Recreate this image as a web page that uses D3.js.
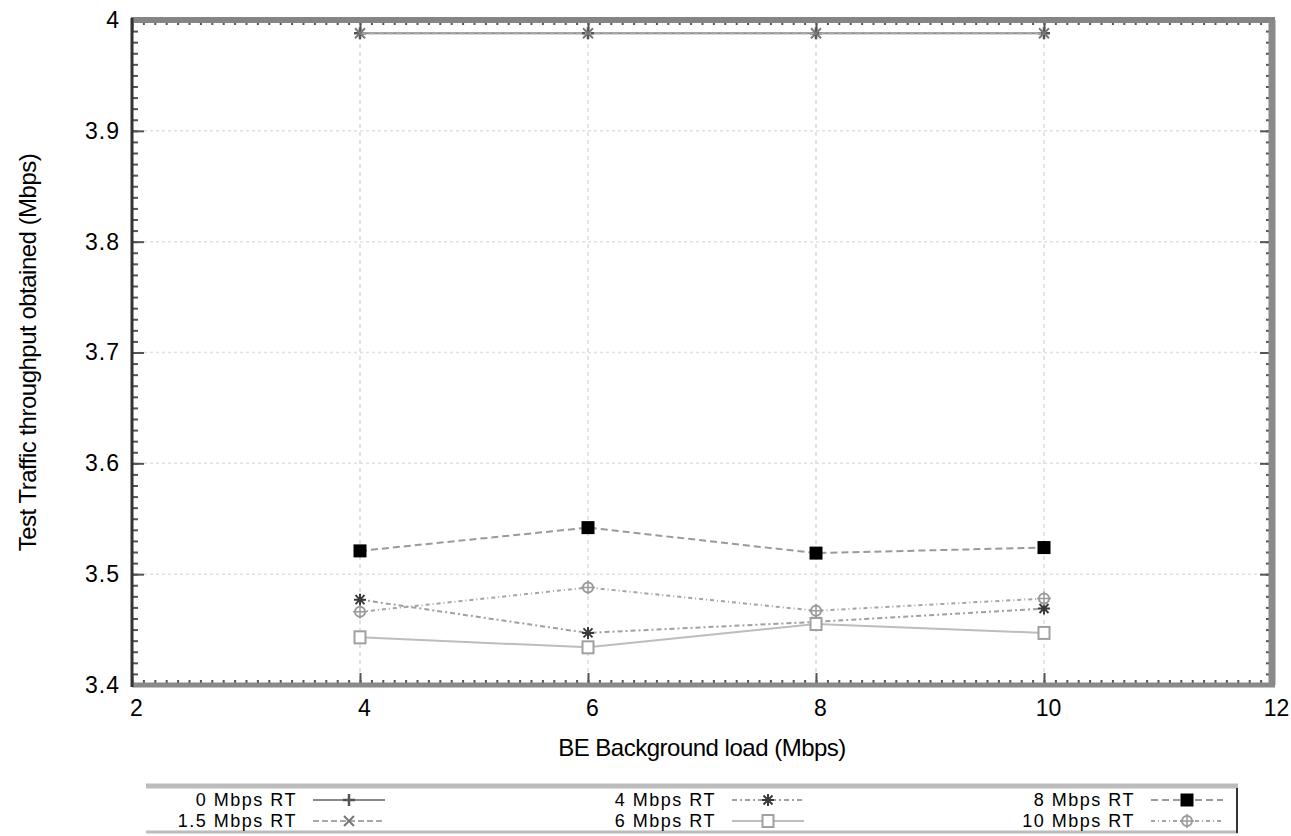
<!DOCTYPE html>
<html lang="en">
<head>
  <meta charset="UTF-8" />
  <title>Test Traffic throughput vs BE Background load</title>
  <script src="https://d3js.org/d3.v7.min.js"></script>
  <style>
    body {
      margin: 0;
      background: #ffffff;
    }
    svg text {
      font-family: 'Liberation Sans', Arial, sans-serif;
      fill: #000;
    }
  </style>
</head>
<body>
  <svg id="chart"></svg>

  <script>
    // data
    const xValues = [4, 6, 8, 10];
    const seriesNames = ["0 Mbps RT", "1.5 Mbps RT", "4 Mbps RT", "6 Mbps RT", "8 Mbps RT", "10 Mbps RT"];
    const rt0 = [3.988, 3.988, 3.988, 3.988];
    const rt15 = [3.988, 3.988, 3.988, 3.988];
    const rt4 = [3.477, 3.447, 3.457, 3.469];
    const rt6 = [3.443, 3.434, 3.455, 3.447];
    const rt8 = [3.521, 3.542, 3.519, 3.524];
    const rt10 = [3.466, 3.488, 3.467, 3.478];
    const xTicks = [2, 4, 6, 8, 10, 12];
    const yTicks = [3.4, 3.5, 3.6, 3.7, 3.8, 3.9, 4];

    const W = 1291, H = 836;
    const svg = d3.select("#chart").attr("width", W).attr("height", H);

    const margin = { top: 20, right: 19, bottom: 151, left: 132 };
    const width = W - margin.left - margin.right;
    const height = H - margin.top - margin.bottom;
    const g = svg.append("g").attr("transform", `translate(${margin.left},${margin.top})`);

    const x = d3.scaleLinear().domain([2, 12]).range([0, width]);
    const y = d3.scaleLinear().domain([3.4, 4]).range([height, 0]);

    // styles per series
    const styles = [
      { line: "#8a8a8a", dash: null, marker: "plus", mcol: "#555" },
      { line: "#a8a8a8", dash: "6,3", marker: "cross", mcol: "#777" },
      { line: "#a0a0a0", dash: "5,3,2,3", marker: "star", mcol: "#3a3a3a" },
      { line: "#bdbdbd", dash: null, marker: "openSquare", mcol: "#a0a0a0" },
      { line: "#9a9a9a", dash: "7,4", marker: "filledSquare", mcol: "#000" },
      { line: "#a4a4a4", dash: "4,3,1,3", marker: "circlePlus", mcol: "#9a9a9a" }
    ];
    const seriesValues = [rt0, rt15, rt4, rt6, rt8, rt10];

    // grid
    g.append("g")
      .selectAll("line")
      .data(xTicks.slice(1, -1))
      .join("line")
      .attr("x1", d => x(d)).attr("x2", d => x(d))
      .attr("y1", 0).attr("y2", height)
      .attr("stroke", "#dadada").attr("stroke-width", 1.5)
      .attr("stroke-dasharray", "4,4");

    g.append("g")
      .selectAll("line")
      .data(yTicks.slice(1, -1))
      .join("line")
      .attr("y1", d => y(d)).attr("y2", d => y(d))
      .attr("x1", 0).attr("x2", width)
      .attr("stroke", "#e0e0e0").attr("stroke-width", 1.5)
      .attr("stroke-dasharray", "3,3");

    // axes with inward ticks on all four sides
    const minorX = d3.range(20, 121).map(d => d / 10);
    const minorY = d3.range(340, 401).map(d => d / 100);

    function styleAxis(sel) {
      sel.select(".domain").remove();
      sel.selectAll(".tick line").attr("stroke", "#555").attr("stroke-width", 2);
    }

    g.append("g").attr("transform", `translate(0,${height})`)
      .call(d3.axisBottom(x).tickValues(minorX).tickSize(-5).tickFormat(""))
      .call(styleAxis);
    g.append("g").attr("transform", `translate(0,${height})`)
      .call(d3.axisBottom(x).tickValues(xTicks).tickSize(-12).tickFormat(d3.format("d")))
      .call(styleAxis)
      .call(s => s.selectAll("text").attr("font-size", 23).attr("dx", 4).attr("dy", "0.35em").attr("y", 23));
    g.append("g")
      .call(d3.axisTop(x).tickValues(minorX).tickSize(-5).tickFormat(""))
      .call(styleAxis);
    g.append("g")
      .call(d3.axisTop(x).tickValues(xTicks).tickSize(-12).tickFormat(""))
      .call(styleAxis);

    g.append("g")
      .call(d3.axisLeft(y).tickValues(minorY).tickSize(-6).tickFormat(""))
      .call(styleAxis);
    g.append("g")
      .call(d3.axisLeft(y).tickValues(yTicks).tickSize(-12).tickFormat(d => d === 4 ? "4" : d3.format(".1f")(d)))
      .call(styleAxis)
      .call(s => s.selectAll("text").attr("font-size", 23).attr("x", -12).attr("letter-spacing", 1));
    g.append("g").attr("transform", `translate(${width},0)`)
      .call(d3.axisRight(y).tickValues(minorY).tickSize(-6).tickFormat(""))
      .call(styleAxis);
    g.append("g").attr("transform", `translate(${width},0)`)
      .call(d3.axisRight(y).tickValues(yTicks).tickSize(-12).tickFormat(""))
      .call(styleAxis);

    // frame
    g.append("line").attr("x1", -1).attr("x2", width + 3).attr("y1", 0).attr("y2", 0)
      .attr("stroke", "#858585").attr("stroke-width", 6);
    g.append("line").attr("x1", 0).attr("x2", width + 3).attr("y1", height).attr("y2", height)
      .attr("stroke", "#8a8a8a").attr("stroke-width", 5);
    g.append("line").attr("x1", width).attr("x2", width).attr("y1", 0).attr("y2", height)
      .attr("stroke", "#8a8a8a").attr("stroke-width", 7);
    g.append("line").attr("x1", 0).attr("x2", 0).attr("y1", -2).attr("y2", height + 2)
      .attr("stroke", "#333").attr("stroke-width", 3);

    // marker drawing
    function drawMarker(sel, type, color) {
      if (type === "plus") {
        sel.append("path").attr("d", "M-6,0H6M0,-6V6").attr("stroke", color).attr("stroke-width", 2.5).attr("fill", "none");
      } else if (type === "cross") {
        sel.append("path").attr("d", "M-5,-5L5,5M-5,5L5,-5").attr("stroke", color).attr("stroke-width", 2).attr("fill", "none");
      } else if (type === "star") {
        sel.append("path").attr("d", "M-6,0H6M0,-6V6M-4.5,-4.5L4.5,4.5M-4.5,4.5L4.5,-4.5").attr("stroke", color).attr("stroke-width", 2).attr("fill", "none");
      } else if (type === "openSquare") {
        sel.append("rect").attr("x", -5.5).attr("y", -6).attr("width", 11).attr("height", 12)
          .attr("fill", "#fff").attr("stroke", color).attr("stroke-width", 2);
      } else if (type === "filledSquare") {
        sel.append("rect").attr("x", -6.5).attr("y", -6.5).attr("width", 13).attr("height", 13).attr("fill", color);
      } else if (type === "circlePlus") {
        sel.append("circle").attr("r", 5).attr("fill", "#fff").attr("stroke", color).attr("stroke-width", 2);
        sel.append("path").attr("d", "M-7,0H7M0,-7V7").attr("stroke", color).attr("stroke-width", 1.5);
      }
    }

    const line = d3.line().x(d => x(d[0])).y(d => y(d[1]));

    seriesValues.forEach((vals, i) => {
      const st = styles[i];
      const pts = xValues.map((xv, j) => [xv, vals[j]]);
      g.append("path")
        .datum(pts)
        .attr("fill", "none")
        .attr("stroke", st.line)
        .attr("stroke-width", 2)
        .attr("stroke-dasharray", st.dash)
        .attr("d", line);
      g.selectAll(null)
        .data(pts)
        .join("g")
        .attr("transform", d => `translate(${x(d[0])},${y(d[1])})`)
        .each(function () { drawMarker(d3.select(this), st.marker, st.mcol); });
    });

    // axis titles
    svg.append("text")
      .attr("x", margin.left + width / 2)
      .attr("y", 756)
      .attr("text-anchor", "middle")
      .attr("font-size", 24)
      .attr("letter-spacing", -0.5)
      .text("BE Background load (Mbps)");

    svg.append("text")
      .attr("transform", `translate(36,${margin.top + height / 2}) rotate(-90)`)
      .attr("text-anchor", "middle")
      .attr("font-size", 24)
      .attr("letter-spacing", -0.5)
      .text("Test Traffic throughput obtained (Mbps)");

    // legend
    const legend = svg.append("g");
    legend.append("line").attr("x1", 146).attr("x2", 1238).attr("y1", 786).attr("y2", 786)
      .attr("stroke", "#bcbcbc").attr("stroke-width", 5);
    legend.append("line").attr("x1", 146).attr("x2", 1238).attr("y1", 832).attr("y2", 832)
      .attr("stroke", "#bcbcbc").attr("stroke-width", 3);
    legend.append("line").attr("x1", 1237).attr("x2", 1237).attr("y1", 788).attr("y2", 833)
      .attr("stroke", "#333").attr("stroke-width", 2);

    const colTextEnd = [297, 716, 1135];
    const rowY = [800, 821];
    seriesNames.forEach((name, i) => {
      const col = Math.floor(i / 2), row = i % 2;
      const st = styles[i];
      const item = legend.append("g");
      item.append("text")
        .attr("x", colTextEnd[col])
        .attr("y", rowY[row])
        .attr("dy", "0.36em")
        .attr("text-anchor", "end")
        .attr("font-size", 18)
        .attr("letter-spacing", 1.5)
        .text(name);
      const x0 = colTextEnd[col] + 16, x1 = colTextEnd[col] + 88;
      item.append("line")
        .attr("x1", x0).attr("x2", x1)
        .attr("y1", rowY[row]).attr("y2", rowY[row])
        .attr("stroke", st.line).attr("stroke-width", 2)
        .attr("stroke-dasharray", st.dash);
      const m = item.append("g").attr("transform", `translate(${(x0 + x1) / 2},${rowY[row]})`);
      drawMarker(m, st.marker, st.mcol);
    });
  </script>
</body>
</html>
